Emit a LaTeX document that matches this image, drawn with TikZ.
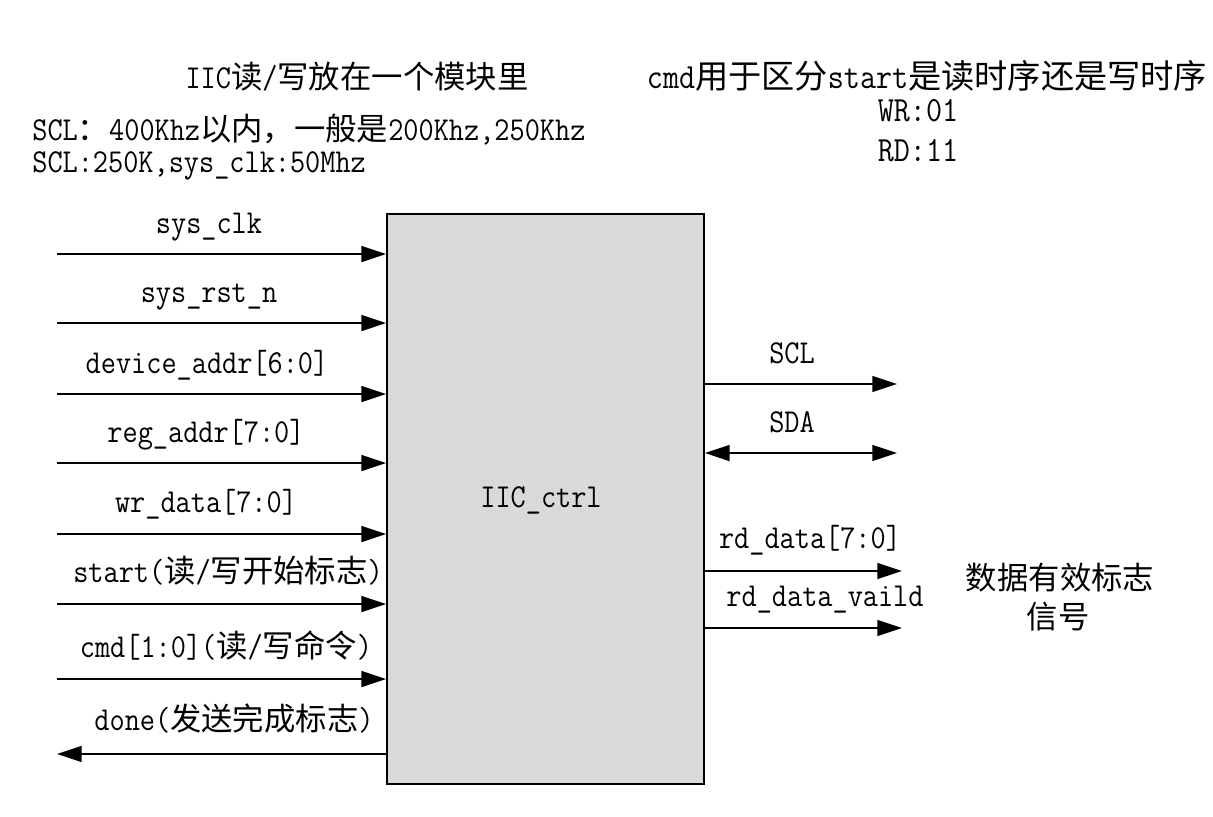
\documentclass[tikz,border=0pt]{standalone}
\usepackage{fontspec}
\usepackage{tikz}
\usetikzlibrary{arrows.meta}

\setmonofont{Latin Modern Mono}[Scale=1.12,FakeStretch=0.88]
\newfontfamily\cjk{Noto Sans CJK SC}[Scale=1.05]
\newcommand{\zh}[1]{{\cjk #1}}

\tikzset{
	sig/.style={line width=1.1pt,-{Triangle[length=14pt,width=9pt]}},
	bisig/.style={line width=1.1pt,{Triangle[length=14pt,width=9pt]}-{Triangle[length=14pt,width=9pt]}},
	lbl/.style={anchor=base,inner sep=0pt},
	note/.style={lbl,font=\ttfamily\fontsize{18}{21}\selectfont}
}

\begin{document}
\begin{tikzpicture}[x=0.02cm,y=-0.02cm,font=\ttfamily\fontsize{17}{20}\selectfont]
		\useasboundingbox (0,0) rectangle (1213,816);

		% module
		\node [draw,fill=black!15,line width=1.1pt,minimum width=6.34cm,minimum height=11.4cm,inner sep=0pt] (ctrl) at (545.5,499) {};
		\node [lbl] (name) at (541,507) {IIC\_ctrl};

		% inputs
		\coordinate (clk) at (57,254);
		\coordinate (rst) at (57,323);
		\coordinate (dev) at (57,394);
		\coordinate (reg) at (57,463);
		\coordinate (wr) at (57,534);
		\coordinate (start) at (57,604);
		\coordinate (cmd) at (57,679);
		\coordinate (done) at (57,754);

		\draw [sig] (clk) -- (clk -| ctrl.west);
		\draw [sig] (rst) -- (rst -| ctrl.west);
		\draw [sig] (dev) -- (dev -| ctrl.west);
		\draw [sig] (reg) -- (reg -| ctrl.west);
		\draw [sig] (wr) -- (wr -| ctrl.west);
		\draw [sig] (start) -- (start -| ctrl.west);
		\draw [sig] (cmd) -- (cmd -| ctrl.west);
		\draw [sig] (done -| ctrl.west) -- (done);

		\node [lbl] (lclk) at (209,233) {sys\_clk};
		\node [lbl] (lrst) at (209,302) {sys\_rst\_n};
		\node [lbl] (ldev) at (207,373) {device\_addr[6:0]};
		\node [lbl] (lreg) at (206,442) {reg\_addr[7:0]};
		\node [lbl] (lwr) at (206,512) {wr\_data[7:0]};
		\node [lbl] (lstart) at (228,582) {start(\zh{读}/\zh{写开始标志})};
		\node [lbl] (lcmd) at (226,657) {cmd[1:0](\zh{读}/\zh{写命令})};
		\node [lbl] (ldone) at (234,730) {done(\zh{发送完成标志})};

		% outputs
		\coordinate (scl) at (897,384);
		\coordinate (sda) at (897,453);
		\coordinate (rd) at (902,571);
		\coordinate (vld) at (902,628);

		\draw [sig] (scl -| ctrl.east) -- (scl);
		\draw [bisig] (sda -| ctrl.east) -- (sda);
		\draw [sig] (rd -| ctrl.east) -- (rd);
		\draw [sig] (vld -| ctrl.east) -- (vld);

		\node [lbl] (lscl) at (792,363) {SCL};
		\node [lbl] (lsda) at (792,432) {SDA};
		\node [lbl] (lrd) at (810,548) {rd\_data[7:0]};
		\node [lbl] (lvld) at (825,606) {rd\_data\_vaild};
		\node [lbl] (flag) at (1060,589) {\zh{数据有效标志}};
		\node [lbl] (flag2) at (1058,628) {\zh{信号}};

		% notes
		\node [lbl] (title) at (357,88) {IIC\zh{读}/\zh{写放在一个模块里}};
		\node [lbl,anchor=base west] (freq) at (32,140) {SCL\zh{：}400Khz\zh{以内，一般是}200Khz,250Khz};
		\node [lbl,anchor=base west] (clkset) at (32,172) {SCL:250K,sys\_clk:50Mhz};
		\node [note] (cmdnote) at (927,88) {cmd\zh{用于区分}start\zh{是读时序还是写时序}};
		\node [note] (wrcode) at (918,121) {WR:01};
		\node [note] (rdcode) at (918,161) {RD:11};
	\end{tikzpicture}
\end{document}
